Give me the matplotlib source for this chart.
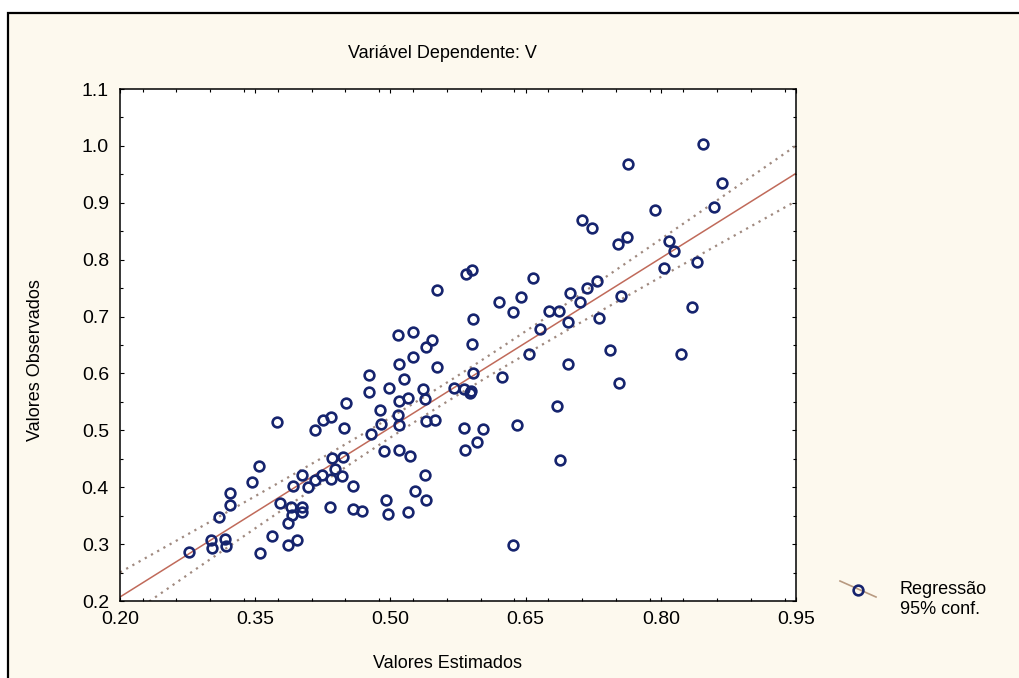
import numpy as np
import matplotlib
matplotlib.use("Agg")
from matplotlib import pyplot as plt
from matplotlib.lines import Line2D
from matplotlib.patches import Rectangle
from matplotlib.ticker import MultipleLocator, FixedLocator

plt.rcParams['font.family'] = ['Liberation Sans', 'DejaVu Sans']

estimados = [
    0.276, 0.301, 0.302, 0.316, 0.318, 0.310, 0.322, 0.322, 0.346, 0.354,
    0.355, 0.369, 0.374, 0.377, 0.386, 0.386, 0.391, 0.390, 0.392, 0.396,
    0.402, 0.402, 0.402, 0.409, 0.416, 0.424, 0.433, 0.434, 0.435, 0.439,
    0.446, 0.447, 0.416, 0.425, 0.434, 0.449, 0.451, 0.458, 0.459, 0.552,
    0.621, 0.645, 0.658, 0.699, 0.636, 0.592, 0.676, 0.687, 0.710, 0.697,
    0.666, 0.508, 0.525, 0.546, 0.540, 0.591, 0.525, 0.510, 0.552, 0.654,
    0.697, 0.476, 0.498, 0.515, 0.476, 0.536, 0.592, 0.624, 0.571, 0.582,
    0.589, 0.588, 0.510, 0.520, 0.538, 0.489, 0.508, 0.490, 0.509, 0.540,
    0.550, 0.479, 0.582, 0.603, 0.641, 0.685, 0.596, 0.583, 0.493, 0.510,
    0.522, 0.688, 0.538, 0.527, 0.540, 0.495, 0.497, 0.520, 0.469, 0.636,
    0.584, 0.591, 0.764, 0.868, 0.859, 0.794, 0.713, 0.724, 0.763, 0.753,
    0.809, 0.815, 0.840, 0.804, 0.729, 0.718, 0.756, 0.731, 0.835, 0.744,
    0.822, 0.754, 0.847,
]
observados = [
    0.287, 0.308, 0.293, 0.309, 0.296, 0.348, 0.368, 0.390, 0.410, 0.438,
    0.285, 0.314, 0.514, 0.373, 0.299, 0.337, 0.351, 0.366, 0.403, 0.307,
    0.422, 0.356, 0.366, 0.400, 0.413, 0.421, 0.365, 0.414, 0.451, 0.432,
    0.419, 0.454, 0.501, 0.519, 0.523, 0.504, 0.548, 0.403, 0.361, 0.747,
    0.725, 0.735, 0.767, 0.742, 0.708, 0.696, 0.709, 0.710, 0.726, 0.691,
    0.679, 0.668, 0.673, 0.659, 0.646, 0.652, 0.629, 0.617, 0.611, 0.635,
    0.617, 0.598, 0.574, 0.590, 0.567, 0.573, 0.600, 0.593, 0.575, 0.573,
    0.570, 0.566, 0.551, 0.557, 0.555, 0.535, 0.527, 0.512, 0.510, 0.516,
    0.519, 0.494, 0.504, 0.503, 0.510, 0.543, 0.480, 0.466, 0.464, 0.465,
    0.455, 0.448, 0.422, 0.394, 0.378, 0.378, 0.353, 0.357, 0.359, 0.299,
    0.775, 0.781, 0.969, 0.934, 0.892, 0.887, 0.870, 0.856, 0.840, 0.827,
    0.833, 0.816, 0.796, 0.786, 0.763, 0.751, 0.737, 0.698, 0.717, 0.641,
    0.635, 0.584, 1.003,
]

x_ticks = [0.20, 0.35, 0.50, 0.65, 0.80, 0.95]
y_ticks = [0.2, 0.3, 0.4, 0.5, 0.6, 0.7, 0.8, 0.9, 1.0, 1.1]
t_95 = 1.979

x = np.array(estimados)
y = np.array(observados)

# reta de regressao e intervalo de 95% da media
slope, intercept = np.polyfit(x, y, 1)
n = len(x)
resid = y - (slope * x + intercept)
s = np.sqrt(np.sum(resid ** 2) / (n - 2))
sxx = np.sum((x - x.mean()) ** 2)
xs = np.linspace(x_ticks[0], x_ticks[-1], 300)
fit = slope * xs + intercept
hw = t_95 * s * np.sqrt(1.0 / n + (xs - x.mean()) ** 2 / sxx)

fig = plt.figure(figsize=(10.2, 6.78), dpi=100, facecolor='white')
fig.add_artist(Rectangle((8 / 1020, -0.05), 1.2, 1.05 - 13 / 678,
                         transform=fig.transFigure, facecolor='#fdf9ee',
                         edgecolor='black', lw=1.6, zorder=-10))

ax = fig.add_axes([120 / 1020, 1 - 601 / 678, 676 / 1020, 512 / 678])
ax.set_facecolor('white')

ax.plot(xs, fit, color='#c06a5a', lw=1.1, zorder=2)
ax.plot(xs, fit + hw, color='#a08a80', lw=1.6, ls=(0, (1, 2.2)), zorder=2)
ax.plot(xs, fit - hw, color='#a08a80', lw=1.6, ls=(0, (1, 2.2)), zorder=2)
ax.plot(x, y, ls='none', marker='o', ms=7, mfc='none', mec='#16246e',
        mew=1.9, zorder=3)

ax.set_xlim(x_ticks[0], x_ticks[-1])
ax.set_ylim(y_ticks[0], y_ticks[-1])
ax.xaxis.set_major_locator(FixedLocator(x_ticks))
ax.yaxis.set_major_locator(FixedLocator(y_ticks))
ax.set_xticklabels(['%.2f' % v for v in x_ticks])
ax.set_yticklabels(['%.1f' % v for v in y_ticks])
ax.xaxis.set_minor_locator(MultipleLocator(0.0375))
ax.yaxis.set_minor_locator(MultipleLocator(0.05))
ax.tick_params(which='both', direction='in', top=True, right=True,
               width=0.8, labelsize=14)
ax.tick_params(which='major', length=3)
ax.tick_params(which='minor', length=2)
ax.tick_params(axis='x', pad=7)
ax.tick_params(axis='y', pad=8)
for sp in ax.spines.values():
    sp.set_linewidth(1.1)

ax.set_xlabel('Valores Estimados', fontsize=13)
ax.xaxis.set_label_coords((448 - 120) / 676, -(655 - 601) / 512)
ax.set_ylabel('Valores Observados', fontsize=13)
ax.yaxis.set_label_coords(-(120 - 44) / 676, (601 - 360) / 512)
fig.text(442 / 1020, 1 - 53 / 678, 'Variável Dependente: V', fontsize=13,
         ha='center', va='center')

# legenda
fig.add_artist(Line2D([840 / 1020, 876 / 1020], [1 - 581 / 678, 1 - 597 / 678],
                      transform=fig.transFigure, color='#b89a80', lw=1.2))
fig.add_artist(Line2D([858 / 1020], [1 - 590 / 678], transform=fig.transFigure,
                      ls='none', marker='o', ms=7, mfc='none', mec='#16246e',
                      mew=1.9))
fig.text(900 / 1020, 1 - 590 / 678, 'Regressão', fontsize=13, va='center')
fig.text(900 / 1020, 1 - 609 / 678, '95% conf.', fontsize=13, va='center')

fig.savefig('out.png', dpi=100)
